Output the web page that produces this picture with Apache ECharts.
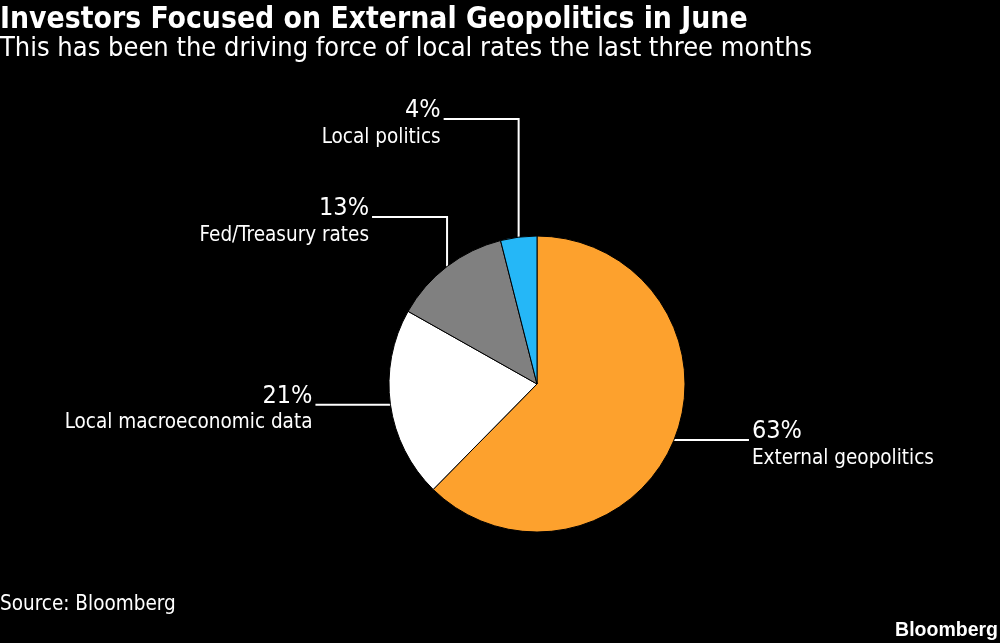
<!DOCTYPE html>
<html><head><meta charset="utf-8">
<script src="https://cdn.jsdelivr.net/npm/echarts@6/dist/echarts.min.js"></script>
<style>html,body{margin:0;padding:0;background:#000;}#c{width:1000px;height:643px;}</style>
</head><body><div id="c"></div>
<script>
const categories = ["External geopolitics", "Local macroeconomic data", "Fed/Treasury rates", "Local politics"];
const values = [63, 21, 13, 4];
const colors = ["#fda12d", "#ffffff", "#808080", "#25b7f7"];
const titleText = "Investors Focused on External Geopolitics in June";
const subtitleText = "This has been the driving force of local rates the last three months";
const sourceText = "Source: Bloomberg";

const FONT = "'DejaVu Sans Condensed', 'DejaVu Sans', sans-serif";
// label layout: side, and elbow y (null = horizontal straight from slice)
const labelSide = ['right', 'left', 'left', 'left'];
const labelElbowY = [null, null, 217, 119];
const LEG = 75;

const chart = echarts.init(document.getElementById('c'));
chart.setOption({
  backgroundColor: '#000',
  animation: false,
  title: [
    {text: titleText, left: 0, top: 5, padding: 0, textStyle: {color: '#fff', fontFamily: FONT, fontWeight: 'bold', fontSize: 29.8}},
    {text: subtitleText, left: 0, top: 35, padding: 0, textStyle: {color: '#fff', fontFamily: FONT, fontWeight: 'normal', fontSize: 27}},
    {text: sourceText, left: 0, top: 594, padding: 0, textStyle: {color: '#fff', fontFamily: FONT, fontWeight: 'normal', fontSize: 20.5}},
    {text: 'Bloomberg', right: 2, top: 621, padding: 0, textStyle: {color: '#fff', fontFamily: "'Liberation Sans', Arial, sans-serif", fontWeight: 'bold', fontSize: 19.5}}
  ],
  series: [{
    type: 'pie',
    center: [537, 384],
    radius: [0, 148],
    startAngle: 90,
    clockwise: true,
    data: categories.map((c, i) => ({name: c, value: values[i], itemStyle: {color: colors[i]}})),
    itemStyle: {borderColor: '#000', borderWidth: 1},
    label: {
      show: true,
      position: 'outside',
      formatter: p => '{p|' + p.value + '%}\n{n|' + p.name + '}',
      rich: {
        p: {color: '#fff', fontFamily: FONT, fontSize: 25, lineHeight: 27},
        n: {color: '#fff', fontFamily: FONT, fontSize: 20.5, lineHeight: 27}
      }
    },
    labelLine: {show: true, lineStyle: {color: '#fff', width: 2}},
    labelLayout: function (params) {
      const i = params.dataIndex;
      const p0 = params.labelLinePoints ? params.labelLinePoints[0] : [0, 0];
      const side = labelSide[i];
      const ey = labelElbowY[i];
      const y = ey == null ? p0[1] : ey;
      const endX = side === 'right' ? p0[0] + LEG : p0[0] - LEG;
      const pts = ey == null ? [[p0[0], y], [(p0[0] + endX) / 2, y], [endX, y]]
                             : [[p0[0], p0[1]], [p0[0], y], [endX, y]];
      return {
        x: side === 'right' ? endX + 3 : endX - 3,
        y: y + 5,
        align: side === 'right' ? 'left' : 'right',
        verticalAlign: 'middle',
        labelLinePoints: pts
      };
    }
  }]
});
</script></body></html>
